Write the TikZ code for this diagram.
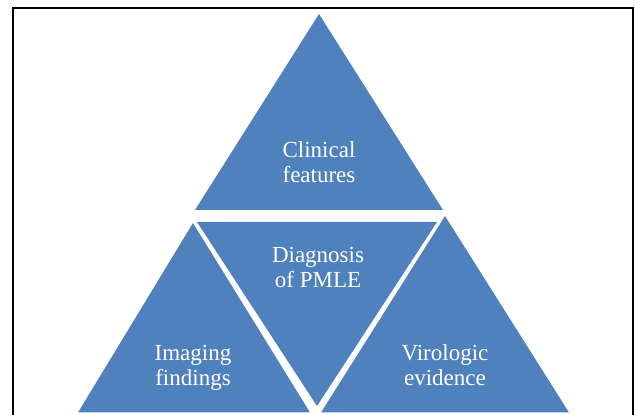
\documentclass[tikz,border=0pt]{standalone}
\usepackage{fontspec}
\setmainfont{Liberation Serif}
\definecolor{pmleblue}{RGB}{79,129,189}

\begin{document}
\begin{tikzpicture}[x=1pt, y=1pt,
  tri/.style={fill=pmleblue},
  lbl/.style={text=white, align=center, inner sep=0pt,
              font=\fontsize{23}{25}\selectfont},
  boxline/.style={line width=2pt}]
\useasboundingbox (0,0) rectangle (635,415);
\draw[boxline] (13,0) -- (13,406.5) -- (632.5,406.5) -- (632.5,0);
% four triangles
\fill[tri] (195,205) -- (319,401) -- (443,205) -- cycle;
\fill[tri] (197,193) -- (437,193) -- (317,9) -- cycle;
\fill[tri] (78,2.5) -- (193,192) -- (310,2.5) -- cycle;
\fill[tri] (321,2.5) -- (445,199) -- (569,2.5) -- cycle;
\node[lbl] (clin) at (319,253.3) {Clinical\\features};
\node[lbl] (diag) at (318,147.1) {Diagnosis\\of PMLE};
\node[lbl] (img) at (193,47.1) {Imaging\\findings};
\node[lbl] (viro) at (445,50.3) {Virologic\\evidence};
\end{tikzpicture}
\end{document}
